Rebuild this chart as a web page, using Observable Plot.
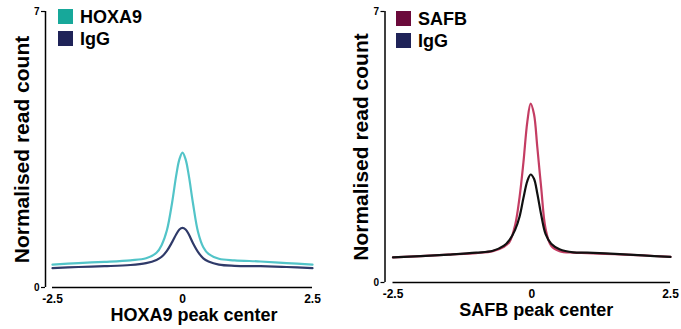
<!DOCTYPE html>
<html>
<head>
<meta charset="utf-8">
<script src="https://cdn.jsdelivr.net/npm/d3@7"></script>
<script src="https://cdn.jsdelivr.net/npm/@observablehq/plot@0.6"></script>
<style>
  html, body { margin: 0; padding: 0; background: #fff; }
  #wrap { display: flex; width: 681px; height: 329px; font-family: "Liberation Sans", Arial, sans-serif; }
  .panel { position: relative; }
  .legend { position: absolute; font-weight: bold; font-size: 18px; color: #000; }
  .item { position: absolute; white-space: nowrap; }
  .sw { position: absolute; width: 15px; height: 15px; }
  .lab { position: absolute; line-height: 1; }
</style>
</head>
<body>
<div id="wrap"></div>
<script>
// ---- Data ----
const xLeft = [-2.5, -2.0, -1.5, -1.0, -0.7, -0.5, -0.4, -0.3, -0.2, -0.12, -0.06, 0, 0.06, 0.12, 0.2, 0.3, 0.4, 0.5, 0.7, 1.0, 1.5, 2.0, 2.5];
const hoxa9 = [0.58, 0.62, 0.65, 0.69, 0.74, 0.88, 1.08, 1.45, 2.15, 2.85, 3.25, 3.42, 3.25, 2.85, 2.15, 1.40, 1.02, 0.85, 0.73, 0.69, 0.66, 0.62, 0.58];
const iggLeft = [0.49, 0.52, 0.54, 0.57, 0.62, 0.70, 0.78, 0.93, 1.15, 1.35, 1.47, 1.51, 1.47, 1.35, 1.13, 0.90, 0.74, 0.66, 0.58, 0.55, 0.54, 0.52, 0.49];

const xRight = [-2.5, -2.0, -1.5, -1.0, -0.7, -0.5, -0.4, -0.3, -0.22, -0.15, -0.08, -0.02, 0.04, 0.1, 0.17, 0.25, 0.35, 0.5, 0.75, 1.0, 1.5, 2.0, 2.5];
const safb = [0.65, 0.68, 0.72, 0.76, 0.81, 0.92, 1.05, 1.48, 2.2, 3.1, 4.15, 4.62, 4.35, 3.5, 2.45, 1.38, 0.95, 0.81, 0.77, 0.76, 0.73, 0.70, 0.66];
const iggRight = [0.65, 0.68, 0.72, 0.77, 0.82, 0.95, 1.10, 1.36, 1.70, 2.18, 2.62, 2.79, 2.68, 2.30, 1.75, 1.25, 1.00, 0.86, 0.78, 0.77, 0.74, 0.70, 0.66];

const xTicks = [-2.5, 0, 2.5];
const yTicks = [0, 7];

const panels = [
  {
    name: "HOXA9", xs: xLeft, target: hoxa9, igg: iggLeft,
    targetLine: "#52c4c8", iggLine: "#2f3a69",
    targetSwatch: "#17a89a", iggSwatch: "#1f2358",
    xTitle: "HOXA9 peak center",
    width: 340, marginLeft: 45, marginRight: 28, marginTop: 11, marginBottom: 42, inset: 7,
    titleDx: 15, legendLeft: 58, legendTop: 9
  },
  {
    name: "SAFB", xs: xRight, target: safb, igg: iggRight,
    targetLine: "#c43d63", iggLine: "#111111",
    targetSwatch: "#6b0a3b", iggSwatch: "#1f2358",
    xTitle: "SAFB peak center",
    width: 341, marginLeft: 44.5, marginRight: 11, marginTop: 11, marginBottom: 47, inset: 8,
    titleDx: 8.5, legendLeft: 56, legendTop: 11
  }
];

const wrap = document.getElementById("wrap");

for (const p of panels) {
  const targetData = p.xs.map((x, i) => ({x, y: p.target[i]}));
  const iggData = p.xs.map((x, i) => ({x, y: p.igg[i]}));
  const chart = Plot.plot({
    width: p.width,
    height: 329,
    marginLeft: p.marginLeft,
    marginRight: p.marginRight,
    marginTop: p.marginTop,
    marginBottom: p.marginBottom,
    insetLeft: p.inset,
    style: {fontFamily: "'Liberation Sans', Arial, sans-serif", background: "white", color: "#000", overflow: "visible"},
    x: {domain: [-2.5, 2.5]},
    y: {domain: [0, 7]},
    marks: [
      Plot.ruleX([-2.5], {y1: 0, y2: 7, dx: -p.inset, stroke: "#000", strokeWidth: 1.5}),
      Plot.ruleY([0], {x1: -2.5, x2: 2.5, stroke: "#000", strokeWidth: 1.5}),
      Plot.axisY({ticks: yTicks, tickSize: 4, tickPadding: 2, fontSize: 10, fontWeight: "bold", label: null, strokeWidth: 1.2, tickFormat: d => String(d)}),
      Plot.axisX({ticks: xTicks, tickSize: 0, tickPadding: 7, fontSize: 12, fontWeight: "bold", label: null, tickFormat: d => String(d)}),
      Plot.line(targetData, {x: "x", y: "y", stroke: p.targetLine, strokeWidth: 2.2, curve: "catmull-rom"}),
      Plot.line(iggData, {x: "x", y: "y", stroke: p.iggLine, strokeWidth: 2.2, curve: "catmull-rom"}),
      Plot.text([p.xTitle], {frameAnchor: "bottom", dx: p.titleDx, dy: 33, lineAnchor: "bottom", fontSize: 18, fontWeight: "bold"}),
      Plot.text(["Normalised read count"], {frameAnchor: "left", textAnchor: "middle", rotate: -90, dx: -17, lineAnchor: "bottom", fontSize: 21, fontWeight: "bold"})
    ]
  });
  const panel = document.createElement("div");
  panel.className = "panel";
  panel.style.width = p.width + "px";
  panel.appendChild(chart);

  const legend = document.createElement("div");
  legend.className = "legend";
  legend.style.left = p.legendLeft + "px";
  legend.style.top = p.legendTop + "px";
  [[p.name, p.targetSwatch], ["IgG", p.iggSwatch]].forEach(([label, color], i) => {
    const item = document.createElement("div");
    item.className = "item";
    item.style.top = (i * 21.5) + "px";
    const sw = document.createElement("div");
    sw.className = "sw";
    sw.style.background = color;
    sw.style.left = "0px"; sw.style.top = "0px";
    const lab = document.createElement("div");
    lab.className = "lab";
    lab.textContent = label;
    lab.style.left = "22px"; lab.style.top = "-1px";
    item.appendChild(sw); item.appendChild(lab);
    legend.appendChild(item);
  });
  panel.appendChild(legend);
  wrap.appendChild(panel);
}
</script>
</body>
</html>
